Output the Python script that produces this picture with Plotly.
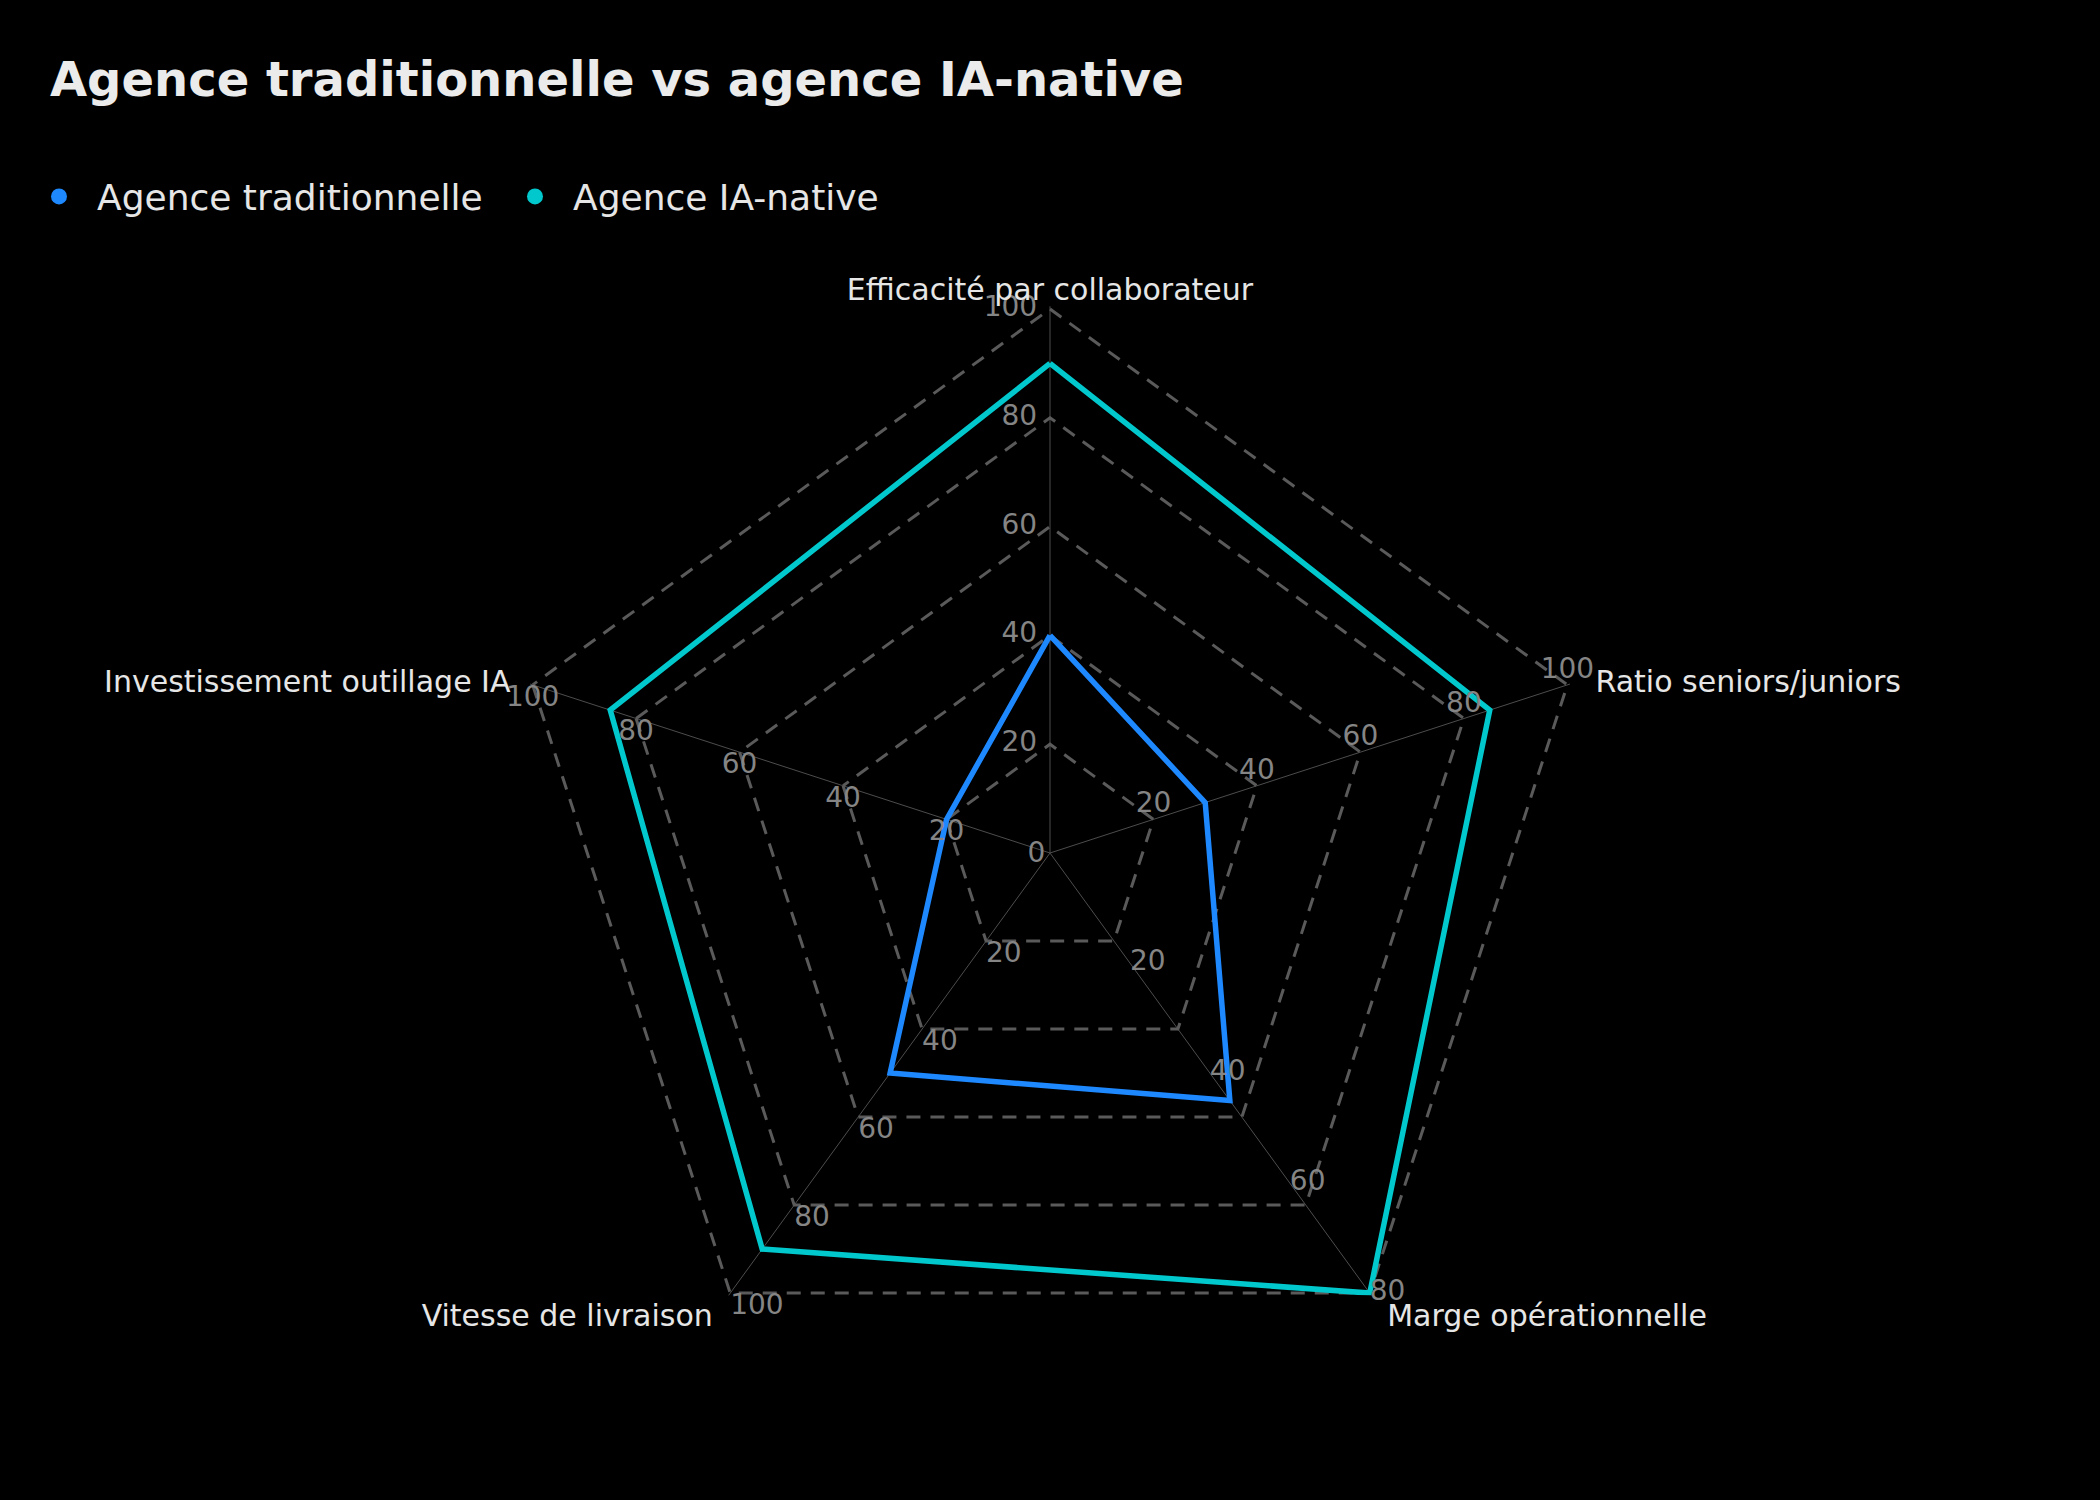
import plotly.graph_objects as go

# données
categories = ["Efficacité par collaborateur", "Ratio seniors/juniors", "Marge opérationnelle",
              "Vitesse de livraison", "Investissement outillage IA"]
axis_max = [100, 100, 80, 100, 100]
traditionnelle = [40, 30, 45, 50, 20]
ia_native = [90, 85, 80, 90, 85]

series = [("Agence traditionnelle", traditionnelle, "#1e88ff"),
          ("Agence IA-native", ia_native, "#00c8cc")]

FONT = "DejaVu Sans"
BG = "#000000"
TICK_GREY = "#858585"
GRID = "#5a5a5a"
PAD = 1.005  # keeps the outer dashed ring inside the range so it gets drawn

cx, cy, rad = 1050 / 2100, 1 - 853 / 1500, 544 * PAD
domain = dict(x=[cx - rad / 2100, cx + rad / 2100], y=[cy - rad / 1500, cy + rad / 1500])

# push the side labels a bit away from the pentagon (non-breaking spaces)
sp = "\u00a0"
cat_text = [categories[0],
            sp * 2 + "\u2009" + categories[1],
            sp + "\u2009" + categories[2],
            categories[3] + sp + "\u2009",
            categories[4] + sp * 2]

fig = go.Figure()

# each series rescaled to the 0-100 radius of the polar (every axis has its own max)
for name, vals, color in series:
    r = [v / m * 100 for v, m in zip(vals, axis_max)]
    fig.add_trace(go.Scatterpolar(r=r + r[:1], theta=categories + categories[:1], mode="lines",
                                  line=dict(color=color, width=5.5), name=name,
                                  showlegend=False, hoverinfo="skip"))
    # legend entry only (dot)
    fig.add_trace(go.Scatterpolar(r=[None], theta=[None], mode="markers", name=name,
                                  marker=dict(color=color, size=16)))

# tick labels along every spoke, in that axis' own units (the 0 comes from the radial axis)
label_pos = ["middle left", "top center", "middle right", "bottom right", "bottom center"]
for i, cat in enumerate(categories):
    ticks = list(range(20, axis_max[i] + 1, 20))
    fig.add_trace(go.Scatterpolar(
        r=[t / axis_max[i] * 100 for t in ticks], theta=[cat] * len(ticks),
        mode="markers+text" if i == 0 else "text", text=[str(t) for t in ticks],
        textposition=label_pos[i], textfont=dict(family=FONT, size=28, color=TICK_GREY),
        marker=dict(size=19, color="rgba(0,0,0,0)"), cliponaxis=False,
        showlegend=False, hoverinfo="skip"))

grid_vals = [0, 20, 40, 60, 80, 100]

fig.update_layout(
    width=2100, height=1500,
    paper_bgcolor=BG, plot_bgcolor=BG,
    margin=dict(l=0, r=0, t=0, b=0),
    polar=dict(
        domain=domain, bgcolor=BG, gridshape="linear",
        angularaxis=dict(type="category", categoryarray=categories, rotation=90, direction="clockwise",
                         tickvals=categories, ticktext=cat_text,
                         showline=False, ticks="", showgrid=True, gridcolor="#4d4d4d", gridwidth=1.2,
                         tickfont=dict(family=FONT, size=30, color="#e6e6e6")),
        radialaxis=dict(range=[0, 100 * PAD], angle=90, tickangle=90, side="counterclockwise",
                        tickvals=grid_vals, ticktext=[str(v) if v == 0 else "" for v in grid_vals],
                        tickfont=dict(family=FONT, size=28, color=TICK_GREY),
                        showline=False, ticks="", showgrid=True,
                        gridcolor=GRID, gridwidth=2.5, griddash="14px,10px"),
    ),
    title=dict(text="Agence traditionnelle vs agence IA-native", x=0.0238, xanchor="left",
               y=0.947, yanchor="middle", xref="container", yref="container",
               font=dict(family=FONT, size=48, color="#ebebeb", weight="bold")),
    legend=dict(orientation="h", x=0.010, xanchor="left", y=0.869, yanchor="middle",
                font=dict(family=FONT, size=36, color="#e6e6e6"), itemwidth=66,
                entrywidth=395, bgcolor="rgba(0,0,0,0)"),
    font=dict(family=FONT),
)

fig.write_html("out.html", config={"displayModeBar": False},
               post_script="document.body.style.margin='0';document.body.style.background='#000';")
